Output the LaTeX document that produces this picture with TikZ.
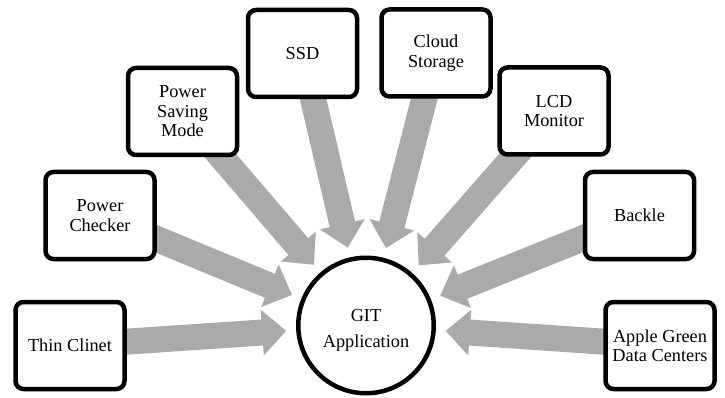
\documentclass[tikz,border=0pt]{standalone}
\usepackage{fontspec}
\setmainfont{Liberation Serif}
\newfontfamily\boxfont{Liberation Serif}
\usetikzlibrary{calc,backgrounds}
\definecolor{arrowgray}{RGB}{170,170,170}
\tikzset{
  box/.style={draw=black, line width=4.5pt, rounded corners=8pt, fill=white,
    minimum width=109pt, minimum height=87pt, align=center, inner sep=2pt,
    font=\boxfont\fontsize{18.3}{19.5}\selectfont},
  hub/.style={circle, draw=black, line width=4.5pt, fill=white,
    minimum size=135.5pt, inner sep=0pt},
  hubtext/.style={align=center, inner sep=0pt, font=\boxfont\fontsize{18.3}{19.5}\selectfont},
  arrowfill/.style={fill=arrowgray}
}
% #1 = source node, #2 = target node
\newcommand\grayarrow[2]{%
  \coordinate (ba-t) at ($(#2.center)!80pt!(#1.center)$);
  \coordinate (ba-h) at ($(ba-t)!24pt!(#1.center)$);
  \fill[arrowfill] ($(#1.center)!13pt!90:(ba-t)$)
    -- ($(ba-h)!13pt!90:(ba-t)$)
    -- ($(ba-h)!23pt!90:(ba-t)$)
    -- (ba-t)
    -- ($(ba-h)!23pt!-90:(ba-t)$)
    -- ($(ba-h)!13pt!-90:(ba-t)$)
    -- ($(#1.center)!13pt!-90:(ba-t)$) -- cycle;
}
\begin{document}
\begin{tikzpicture}[x=1pt,y=-1pt]
\useasboundingbox (0,0) rectangle (725,398);
\node[hub] (git) at (366,325.5) {};
\node[hubtext] (gittext) at (366,330) {GIT\\[6.5pt]Application};
\node[box] (thin) at (70,345.5) {Thin Clinet};
\node[box] (checker) at (100,215.5) {Power\\Checker};
\node[box] (saving) at (182.5,111.5) {Power\\Saving\\Mode};
\node[box] (ssd) at (302.5,53.5) {SSD};
\node[box] (cloud) at (436,53) {Cloud\\Storage};
\node[box] (lcd) at (554,111) {LCD\\Monitor};
\node[box] (backle) at (639.5,215.5) {Backle};
\node[box] (apple) at (660,345.5) {Apple Green\\Data Centers};
\begin{scope}[on background layer]
  \grayarrow{thin}{git}
  \grayarrow{checker}{git}
  \grayarrow{saving}{git}
  \grayarrow{ssd}{git}
  \grayarrow{cloud}{git}
  \grayarrow{lcd}{git}
  \grayarrow{backle}{git}
  \grayarrow{apple}{git}
\end{scope}
\end{tikzpicture}
\end{document}
